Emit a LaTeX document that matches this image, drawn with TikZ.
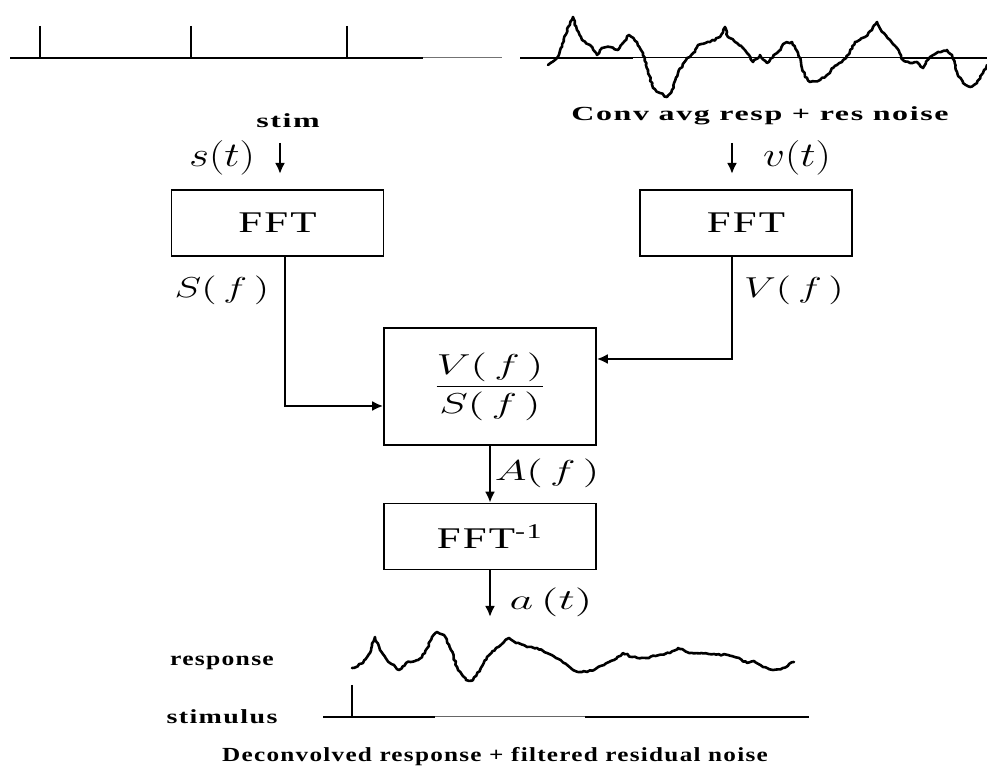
\documentclass[tikz,border=0pt]{standalone}
\usepackage{fontspec}
\setmainfont{Liberation Serif}
\newfontfamily\lblfont{Liberation Serif}[LetterSpace=5]
\newfontfamily\boxfont{Liberation Serif}[LetterSpace=5]
\usepackage{graphicx}
\usepackage{tikz}
\usetikzlibrary{arrows.meta,positioning,calc,decorations.pathmorphing}
\newcommand{\wx}[2]{\scalebox{#1}[1]{#2}}
\tikzset{
  box/.style={draw, line width=0.8pt, minimum width=106pt, minimum height=33pt, inner sep=0pt, font=\boxfont\fontsize{15}{18}\selectfont},
  divbox/.style={box, minimum height=58.5pt, font=\fontsize{14}{16}\selectfont},
  conn/.style={line width=1.3pt, -{Latex[length=5.5pt,width=5pt]}},
  lbl/.style={font=\lblfont\bfseries\fontsize{10}{12}\selectfont, inner sep=0pt},
  var/.style={inner sep=0pt, font=\fontsize{15}{17}\selectfont},
  bigvar/.style={inner sep=0pt, font=\fontsize{17}{19}\selectfont},
  sig/.style={line width=1.3pt, line join=round, line cap=round,
    decorate, decoration={random steps, segment length=1.3pt, amplitude=0.45pt}},
  axis/.style={line width=1pt}
}

\begin{document}
\begin{tikzpicture}[x=0.5pt,y=-0.5pt]
\pgfmathsetseed{11}
\useasboundingbox (0,0) rectangle (987,774);

% stimulus train
\draw[axis] (10,58) -- (423,58);
\draw[line width=0.5pt, black!55] (423,58) -- (502,58);
\foreach \x in {40,191,347}
  \draw[axis] (\x,26) -- (\x,58);

% measured signal
\draw[axis] (520,58) -- (633,58);
\draw[line width=0.5pt] (633,58) -- (900,58);
\draw[axis] (900,58) -- (987,58);
\draw[sig] (548,65) -- (557,58) -- (562,47) -- (568,27) -- (573,17) -- (577,30)
  -- (582,40) -- (590,45) -- (597,55) -- (602,48) -- (610,47) -- (618,50)
  -- (623,43) -- (629,35) -- (637,42) -- (643,53) -- (648,70) -- (653,88)
  -- (660,93) -- (667,97) -- (672,90) -- (678,73) -- (687,58) -- (695,52)
  -- (698,45) -- (710,42) -- (720,37) -- (725,27) -- (728,37) -- (737,43)
  -- (747,53) -- (753,62) -- (760,55) -- (767,63) -- (777,53) -- (785,43)
  -- (792,42) -- (798,53) -- (805,77) -- (810,82) -- (820,80) -- (827,75)
  -- (833,68) -- (842,62) -- (848,55) -- (855,42) -- (865,37) -- (872,30)
  -- (877,22) -- (882,32) -- (890,40) -- (897,48) -- (903,60) -- (910,63)
  -- (917,62) -- (923,68) -- (930,57) -- (938,52) -- (947,50) -- (952,55)
  -- (957,72) -- (963,83) -- (970,87) -- (977,83) -- (983,73) -- (987,65);

\node[lbl] (stimlbl) at (288,121) {\wx{1.6}{stim}};
\node[lbl] (convlbl) at (760,116) {\wx{1.6}{Conv avg resp + res noise}};

% inputs
\coordinate (sin) at (280,143);
\coordinate (sout) at (280,174);
\coordinate (vin) at (732,143);
\coordinate (vout) at (732,174);
\draw[conn] (sin) -- (sout);
\draw[conn] (vin) -- (vout);
\node[bigvar] (st) at (222,158) {\wx{1.25}{$s(t)$}};
\node[bigvar] (vt) at (797,158) {\wx{1.25}{$v(t)$}};

% processing boxes
\node[box] (fftS) at (277.5,223) {\wx{1.43}{FFT}};
\node[box] (fftV) at (746,223) {\wx{1.43}{FFT}};
\node[box, divbox] (div) at (490,386.5) {\wx{1.5}{$\displaystyle\frac{V(\,f\,)}{S(\,f\,)}$}};
\node[box] (ifft) at (490,536.5) {\wx{1.43}{FFT\textsuperscript{-1}}};

\coordinate (sbend) at (285,406);
\coordinate (vbend) at (732,359);
\draw[conn] (fftS.south -| sbend) |- (div.west |- sbend);
\draw[conn] (fftV.south -| vbend) |- (div.east |- vbend);
\draw[conn] (div.south) -- (ifft.north);
\coordinate (aout) at (490,617);
\draw[conn] (ifft.south) -- (aout);

\node[var] (Sf) at (222,290) {\wx{1.4}{$S(\,f\,)$}};
\node[var] (Vf) at (794,290) {\wx{1.4}{$V(\,f\,)$}};
\node[var, font=\fontsize{14}{16}\selectfont] (Af) at (547,473) {\wx{1.5}{$A(\,f\,)$}};
\node[var, font=\fontsize{14}{16}\selectfont] (at) at (551,602) {\wx{1.6}{$a\,(t)$}};

% deconvolved result
\draw[sig] (352,668) -- (363,663) -- (370,653) -- (375,637) -- (380,650)
  -- (387,660) -- (394,665) -- (399,670) -- (406,663) -- (418,660) -- (425,653)
  -- (432,637) -- (437,632) -- (444,635) -- (451,650) -- (458,670) -- (466,680)
  -- (473,680) -- (480,670) -- (487,657) -- (496,648) -- (504,642) -- (509,638)
  -- (516,643) -- (527,647) -- (537,648) -- (547,653) -- (556,658) -- (564,663)
  -- (573,670) -- (582,672) -- (594,670) -- (604,665) -- (614,660) -- (623,653)
  -- (632,657) -- (646,658) -- (659,655) -- (670,653) -- (678,648) -- (689,653)
  -- (701,653) -- (714,654) -- (728,655) -- (739,658) -- (747,663) -- (754,661)
  -- (763,667) -- (773,670) -- (783,668) -- (794,662);
\draw[axis] (323,717) -- (435,717);
\draw[line width=0.5pt, black!60] (435,717) -- (585,717);
\draw[line width=0.7pt] (585,717) -- (809,717);
\draw[axis] (352,685) -- (352,717);

\node[lbl] (resplbl) at (222,663) {\wx{1.28}{response}};
\node[lbl] (stimuluslbl) at (222,717) {\wx{1.4}{stimulus}};
\node[lbl] (deconlbl) at (495,757) {\wx{1.26}{Deconvolved response + filtered residual noise}};
\end{tikzpicture}
\end{document}
